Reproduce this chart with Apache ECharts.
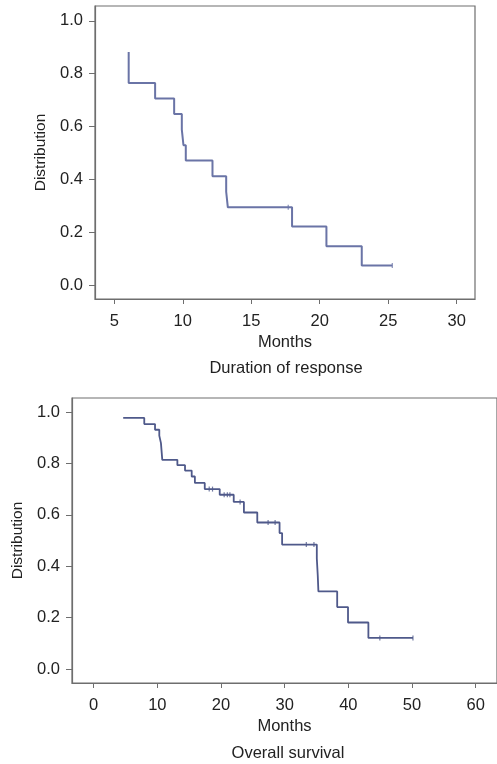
<!DOCTYPE html>
<html>
<head>
<meta charset="utf-8">
<script src="https://cdn.jsdelivr.net/npm/echarts@6/dist/echarts.min.js"></script>
<style>
  html, body { margin: 0; padding: 0; background: #fff; }
  #chart { width: 497px; height: 764px; }
</style>
</head>
<body>
<div id="chart"></div>
<script>
// Duration of response (Kaplan-Meier steps)
const drTimes = [6.05, 6.05, 7.98, 9.37, 9.93, 10.05, 10.22, 12.17, 13.17, 13.29, 17.98, 20.49, 23.07, 25.3];
const drSurv = [0.882, 0.765, 0.706, 0.647, 0.588, 0.529, 0.471, 0.412, 0.353, 0.294, 0.221, 0.147, 0.074, 0.074];
const drCensorTimes = [17.7, 25.3];
const drCensorSurv = [0.294, 0.074];

// Overall survival
const osTimes = [4.64, 7.95, 9.64, 10.31, 10.57, 10.78, 13.15, 14.35, 15.4, 15.9, 17.45, 19.8, 22.0, 23.6, 25.7, 29.2, 29.6, 35.05, 35.2, 35.3, 38.25, 39.95, 43.15, 50.15];
const osSurv = [0.977, 0.953, 0.931, 0.908, 0.879, 0.814, 0.793, 0.772, 0.749, 0.724, 0.700, 0.678, 0.650, 0.609, 0.570, 0.529, 0.484, 0.430, 0.363, 0.302, 0.241, 0.181, 0.121, 0.121];
const osCensorTimes = [18.15, 18.67, 20.5, 21.0, 21.4, 23.0, 27.4, 28.5, 33.4, 34.6, 44.95, 50.15];
const osCensorSurv = [0.700, 0.700, 0.678, 0.678, 0.678, 0.650, 0.570, 0.570, 0.484, 0.484, 0.121, 0.121];

const yTicks = [0, 0.2, 0.4, 0.6, 0.8, 1.0];
const xTicksTop = [5, 10, 15, 20, 25, 30];
const xTicksBottom = [0, 10, 20, 30, 40, 50, 60];

const pairs = (xs, ys) => xs.map((x, i) => [x, ys[i]]);

const font = 'Liberation Sans, Arial, sans-serif';
const axisGray = '#6e6e6e';
const textColor = '#222';

const makeX = (gridIndex, min, max, ticks) => ({
  type: 'value', gridIndex, min, max,
  splitLine: { show: false },
  axisLine: { show: true, onZero: false, lineStyle: { color: axisGray, width: 1.2 } },
  axisTick: { show: true, length: 5, customValues: ticks, lineStyle: { color: axisGray } },
  axisLabel: { customValues: ticks, margin: 14, fontSize: 16.5, color: textColor, fontFamily: font },
  name: 'Months', nameLocation: 'middle', nameGap: 35,
  nameTextStyle: { fontSize: 16.5, color: textColor, fontFamily: font }
});

const makeY = (gridIndex, min, max) => ({
  type: 'value', gridIndex, min, max,
  splitLine: { show: false },
  axisLine: { show: true, onZero: false, lineStyle: { color: axisGray, width: 1.2 } },
  axisTick: { show: true, length: 6, customValues: yTicks, lineStyle: { color: axisGray } },
  axisLabel: { customValues: yTicks, margin: 12, fontSize: 16.5, color: textColor, fontFamily: font,
    formatter: v => v.toFixed(1) },
  name: 'Distribution', nameLocation: 'middle', nameGap: 45,
  nameTextStyle: { fontSize: 15.5, color: textColor, fontFamily: font }
});

const chart = echarts.init(document.getElementById('chart'));
chart.setOption({
  animation: false,
  grid: [
    { left: 95, top: 6, width: 380, height: 293, show: true, borderColor: axisGray, borderWidth: 1.2 },
    { left: 72, top: 398, width: 432, height: 285, show: true, borderColor: axisGray, borderWidth: 1.2 }
  ],
  xAxis: [
    makeX(0, 3.59, 31.34, xTicksTop),
    makeX(1, -3.4, 63.35, xTicksBottom)
  ],
  yAxis: [
    makeY(0, -0.053, 1.056),
    makeY(1, -0.0545, 1.0545)
  ],
  graphic: [
    { type: 'text', x: 286, y: 368, style: { text: 'Duration of response', textAlign: 'center', textVerticalAlign: 'middle', font: '16.5px ' + font, fill: textColor } },
    { type: 'text', x: 288, y: 753, style: { text: 'Overall survival', textAlign: 'center', textVerticalAlign: 'middle', font: '16.5px ' + font, fill: textColor } }
  ],
  series: [
    {
      type: 'line', xAxisIndex: 0, yAxisIndex: 0, step: 'end', showSymbol: false,
      data: pairs(drTimes, drSurv),
      lineStyle: { color: '#6a74a6', width: 2 }
    },
    {
      type: 'scatter', xAxisIndex: 0, yAxisIndex: 0,
      data: pairs(drCensorTimes, drCensorSurv),
      symbol: 'rect', symbolSize: [1.2, 5], itemStyle: { color: '#6a74a6' }
    },
    {
      type: 'line', xAxisIndex: 1, yAxisIndex: 1, step: 'end', showSymbol: false,
      data: pairs(osTimes, osSurv),
      lineStyle: { color: '#4f598a', width: 1.8 }
    },
    {
      type: 'scatter', xAxisIndex: 1, yAxisIndex: 1,
      data: pairs(osCensorTimes, osCensorSurv),
      symbol: 'rect', symbolSize: [1.2, 5], itemStyle: { color: '#4f598a' }
    }
  ]
});
</script>
</body>
</html>
